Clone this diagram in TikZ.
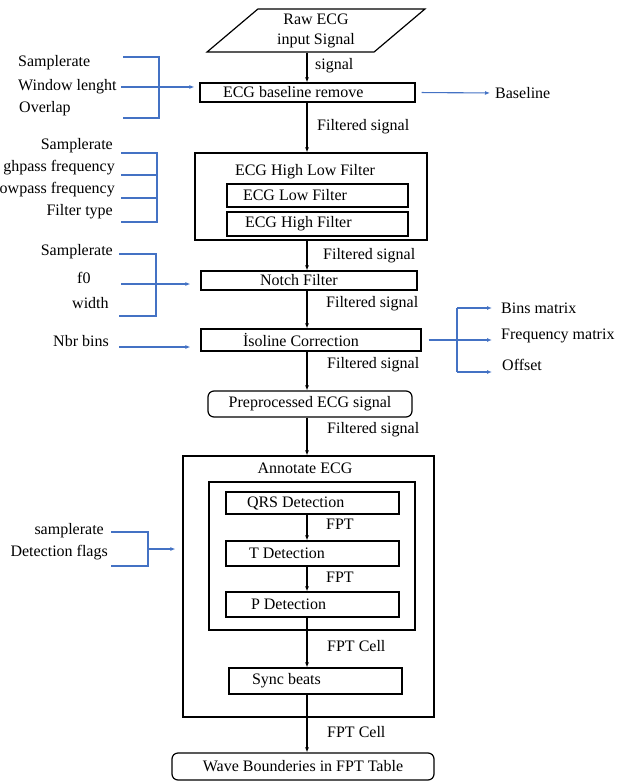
\documentclass[tikz,border=0pt]{standalone}
\usepackage{fontspec}
\setmainfont{Liberation Serif}
\usetikzlibrary{positioning,arrows.meta,shapes.geometric}
\definecolor{parblue}{RGB}{68,114,196}

\begin{document}
\begin{tikzpicture}[
    x=1pt, y=-1pt,
    font=\fontsize{16}{20}\selectfont,
    block/.style={draw, line width=1.2pt, inner sep=0pt, align=flush left},
    roundbox/.style={block, rounded corners=6pt, align=flush center},
    param/.style={inner sep=0pt},
    lbl/.style={inner sep=0pt, anchor=west},
    flow/.style={draw, line width=1.1pt, -{Latex[length=5pt,width=4pt]}},
    feed/.style={draw, parblue, line width=1.1pt},
    feedarrow/.style={feed, -{Latex[length=5pt,width=4pt]}}
]
\path[use as bounding box] (0,0) rectangle (617,781);
\coordinate (spine) at (307,0);

% main chain
\node[draw, line width=1.2pt, trapezium, trapezium left angle=45, trapezium right angle=135,
      trapezium stretches=true, minimum width=218pt, minimum height=43pt, inner sep=0pt,
      align=flush center] (raw) at (316,30.5) {Raw ECG\\input Signal};
\node[block, minimum width=215pt, minimum height=19pt, text width=169pt] (base) at (307.5,92.5) {ECG baseline remove};
\node[block, minimum width=232pt, minimum height=87pt] (hilo) at (311,196.5) {};
\node[param] (hilotitle) at (305,172) {ECG High Low Filter};
\node[block, minimum width=181pt, minimum height=23pt, text width=149pt] (low) at (317.5,195.5) {ECG Low Filter};
\node[block, minimum width=181pt, minimum height=24pt, text width=145pt] (high) at (317.5,224) {ECG High Filter};
\node[block, minimum width=216pt, minimum height=19pt, text width=98pt] (notch) at (309,280.5) {Notch Filter};
\node[block, minimum width=220pt, minimum height=22pt, text width=136pt] (iso) at (311,340) {İsoline Correction};
\node[roundbox, minimum width=204pt, minimum height=26pt] (pre) at (310,404) {Preprocessed ECG signal};
\node[block, minimum width=251pt, minimum height=261pt] (annot) at (308.5,586.5) {};
\node[param] (annottitle) at (305,468) {Annotate ECG};
\node[block, minimum width=206pt, minimum height=148pt] (inner) at (312,556) {};
\node[block, minimum width=173pt, minimum height=22pt, text width=131pt] (qrs) at (312.5,503) {QRS Detection};
\node[block, minimum width=173pt, minimum height=25pt, text width=127pt] (tdet) at (312.5,553.5) {T Detection};
\node[block, minimum width=173pt, minimum height=25pt, text width=123pt] (pdet) at (312.5,604.5) {P Detection};
\node[block, minimum width=173pt, minimum height=26pt, text width=127pt] (sync) at (315.5,681) {Sync beats};
\node[roundbox, minimum width=262pt, minimum height=27pt] (wave) at (303,766.5) {Wave Bounderies in FPT Table};

\draw[flow] (raw.south -| spine) -- (base.north -| spine);
\draw[flow] (base.south -| spine) -- (hilo.north -| spine);
\draw[flow] (hilo.south -| spine) -- (notch.north -| spine);
\draw[flow] (notch.south -| spine) -- (iso.north -| spine);
\draw[flow] (iso.south -| spine) -- (pre.north -| spine);
\draw[flow] (pre.south -| spine) -- (annot.north -| spine);
\draw[flow] (qrs.south -| spine) -- (tdet.north -| spine);
\draw[flow] (tdet.south -| spine) -- (pdet.north -| spine);
\draw[flow] (pdet.south -| spine) -- (sync.north -| spine);
\draw[flow] (sync.south -| spine) -- (wave.north -| spine);

\node[lbl] (lsig) at (315,66) {signal};
\node[lbl] (lfilt1) at (317,127) {Filtered signal};
\node[lbl] (lfilt2) at (323,256) {Filtered signal};
\node[lbl] (lfilt3) at (326,304) {Filtered signal};
\node[lbl] (lfilt4) at (327,365) {Filtered signal};
\node[lbl] (lfilt5) at (327,430) {Filtered signal};
\node[lbl] (lfpt1) at (326,524) {FPT};
\node[lbl] (lfpt2) at (326,577) {FPT};
\node[lbl] (lcell1) at (327,646) {FPT Cell};
\node[lbl] (lcell2) at (327,732) {FPT Cell};

% parameters
\node[param, anchor=west] (srate1) at (18,63) {Samplerate};
\node[param, anchor=west] (wlen) at (18,87) {Window lenght};
\node[param, anchor=west] (overlap) at (19,109) {Overlap};
\node[param, anchor=east] (srate2) at (113,146) {Samplerate};
\node[param, anchor=east] (hipass) at (115,168) {ghpass frequency};
\node[param, anchor=east] (lopass) at (115,190) {owpass frequency};
\node[param, anchor=east] (ftype) at (113,212) {Filter type};
\node[param, anchor=east] (srate3) at (113,252) {Samplerate};
\node[param, anchor=west] (fzero) at (77,278) {f0};
\node[param, anchor=west] (nwidth) at (72,303) {width};
\node[param, anchor=east] (nbr) at (109,341) {Nbr bins};
\node[param, anchor=east] (srate4) at (104,531) {samplerate};
\node[param, anchor=east] (flags) at (108,553) {Detection flags};

% outputs
\node[param, anchor=west] (bline) at (495,93) {Baseline};
\node[param, anchor=west] (bins) at (501,308) {Bins matrix};
\node[param, anchor=west] (freq) at (501,336) {Frequency matrix};
\node[param, anchor=west] (offs) at (502,365) {Offset};

% window parameters
\draw[feed] (123,57) -| (159,118) -- (123,118);
\draw[feedarrow, shorten <=4pt, shorten >=5pt] (wlen.east) -- (wlen.east -| base.west);

% filter parameters
\draw[feed] (121,153) -| (157,222) -- (121,222);
\draw[feed] (121,175) -- (157,175);
\draw[feed] (121,198) -- (157,198);

% notch parameters
\draw[feed] (119,254) -| (156,316) -- (119,316);
\coordinate (f0in) at (121,284);
\draw[feedarrow, shorten >=10pt] (f0in) -- (f0in -| notch.west);

% isoline parameter
\coordinate (nbrin) at (119,347);
\draw[feedarrow, shorten >=10pt] (nbrin) -- (nbrin -| iso.west);

% annotation parameters
\draw[feed] (111,532) -| (148,566) -- (111,566);
\coordinate (detin) at (148,549);
\draw[feedarrow, shorten >=7pt] (detin) -- (detin -| annot.west);

% baseline output
\draw[feedarrow, shorten <=6pt, shorten >=5pt] (base.east) -- (bline.west);

% isoline outputs
\coordinate (binsfork) at (457,308);
\coordinate (offfork) at (457,372);
\draw[feed] (binsfork) -- (offfork);
\draw[feedarrow, shorten <=7pt, shorten >=9pt] (iso.east) -- (iso.east -| freq.west);
\draw[feedarrow, shorten >=9pt] (binsfork) -- (bins.west);
\draw[feedarrow, shorten >=10pt] (offfork) -- (offfork -| offs.west);
\end{tikzpicture}
\end{document}
